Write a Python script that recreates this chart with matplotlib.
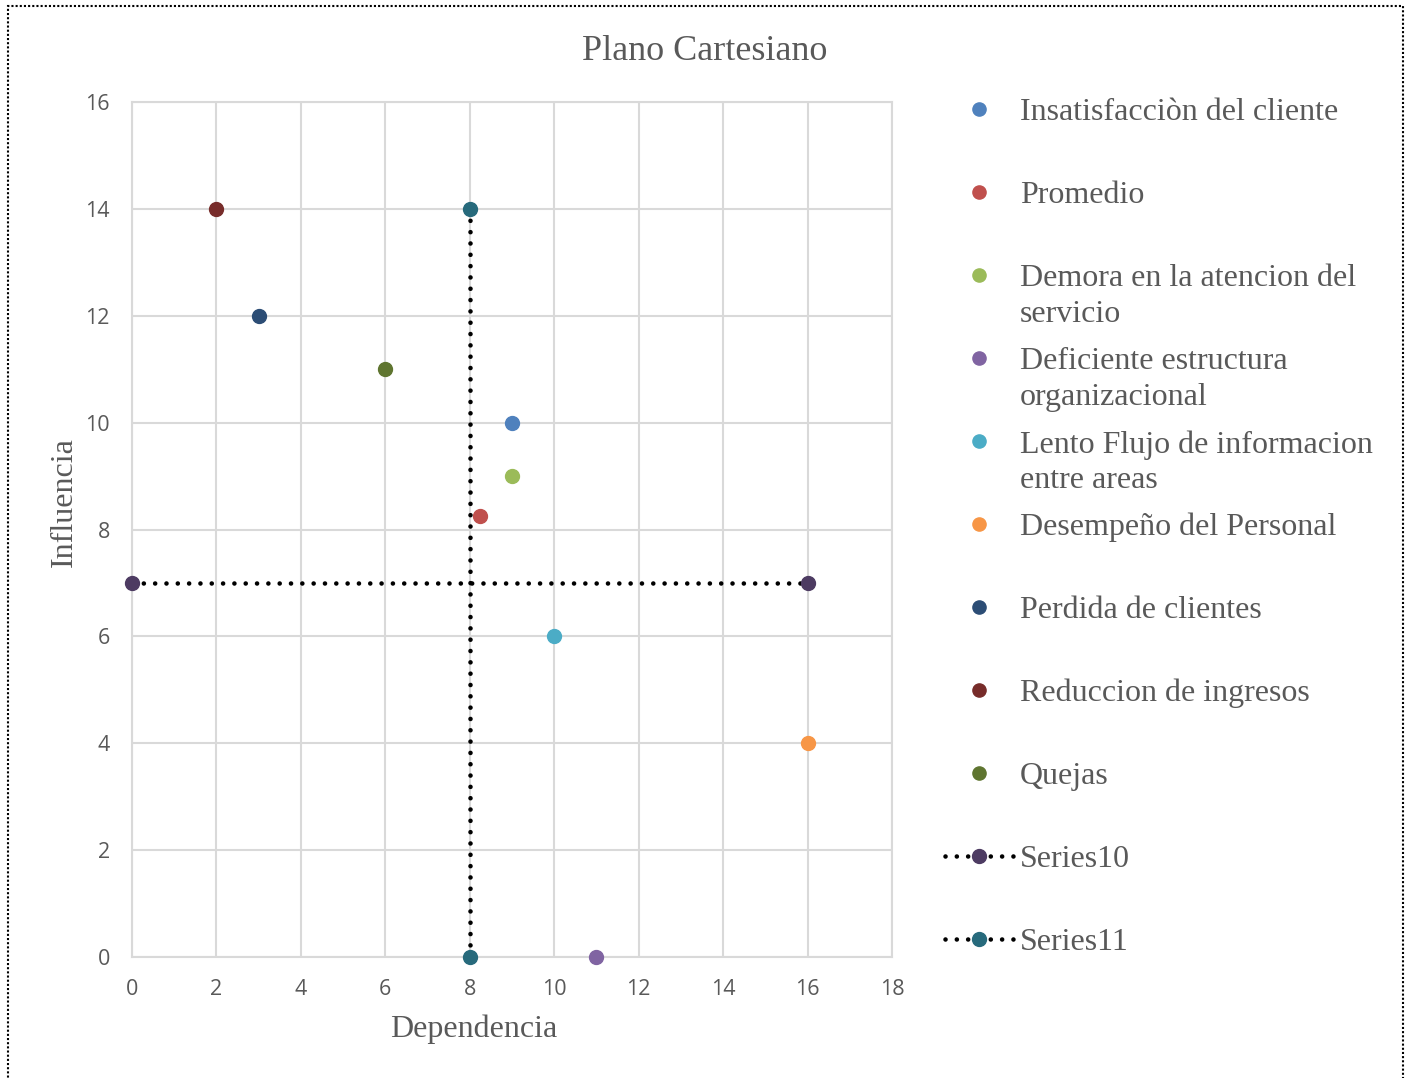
import matplotlib
matplotlib.use("Agg")
import matplotlib.pyplot as plt
from matplotlib.lines import Line2D
from matplotlib.patches import Rectangle

# scatter points (dependencia, influencia)
labels = ["Insatisfacciòn del cliente", "Promedio", "Demora en la atencion del\nservicio",
          "Deficiente estructura\norganizacional", "Lento Flujo de informacion\nentre areas",
          "Desempeño del Personal", "Perdida de clientes", "Reduccion de ingresos", "Quejas"]
dep = [9, 8.25, 9, 11, 10, 16, 3, 2, 6]
inf = [10, 8.25, 9, 0, 6, 4, 12, 14, 11]
colors = ["#4F81BD", "#C0504D", "#9BBB59", "#8064A2", "#4BACC6", "#F79646",
          "#2C4D75", "#772C2A", "#5F7530"]

# dividing lines
s10_x = [0, 16]
s10_y = [7, 7]
s11_x = [8, 8]
s11_y = [14, 0]
line_names = ["Series10", "Series11"]
line_colors = ["#4D3B62", "#276A7C"]

gray = "#595959"
serif = "Liberation Serif"
dots = (0, (0.01, 2.46))

fig = plt.figure(figsize=(14.08, 10.78), dpi=100)
ax = fig.add_axes([132/1408, 1-957/1078, 760/1408, 855/1078])

ax.plot(s10_x, s10_y, linestyle=dots, color="black", lw=3.3,
        dash_capstyle="round", zorder=3)
ax.plot(s10_x, s10_y, "o", ms=10, color=line_colors[0], zorder=4, clip_on=False)
ax.plot(s11_x, s11_y, linestyle=dots, color="black", lw=3.3,
        dash_capstyle="round", zorder=3)
ax.plot(s11_x, s11_y, "o", ms=10, color=line_colors[1], zorder=4, clip_on=False)
for x, y, c in zip(dep, inf, colors):
    ax.plot(x, y, "o", ms=10, color=c, zorder=4, clip_on=False)

ax.set_xlim(0, 18)
ax.set_ylim(0, 16)
ax.set_xticks(range(0, 19, 2))
ax.set_yticks(range(0, 17, 2))
ax.grid(True, color="#D9D9D9", lw=1.5)
ax.set_axisbelow(True)
for s in ax.spines.values():
    s.set_color("#D9D9D9")
    s.set_linewidth(1.5)
ax.tick_params(length=0, labelsize=15.5, labelcolor=gray)
ax.tick_params(axis="x", pad=16)
ax.tick_params(axis="y", pad=16)
for t in ax.get_xticklabels() + ax.get_yticklabels():
    t.set_fontfamily("Open Sans")

ax.set_xlabel("Dependencia", fontsize=23, color=gray, family=serif)
ax.set_ylabel("Influencia", fontsize=23, color=gray, family=serif)
ax.xaxis.set_label_coords(0.45, -0.067)
ax.yaxis.set_label_coords(-0.07, 0.532)
fig.text(705/1408, 1-51/1078, "Plano Cartesiano", fontsize=26, color=gray, family=serif,
         ha="center", va="center")

# legend drawn as a column of entries
all_labels = labels + line_names
all_colors = colors + line_colors
for i, (lab, c) in enumerate(zip(all_labels, all_colors)):
    ymid = 1 - (109 + i*83)/1078
    if i >= len(labels):
        fig.add_artist(Line2D([945/1408, 1013/1408], [ymid, ymid], transform=fig.transFigure,
                              linestyle=dots, color="black", lw=3.3, dash_capstyle="round"))
    fig.add_artist(Line2D([979/1408], [ymid], transform=fig.transFigure, marker="o",
                          ms=10 if i >= len(labels) else 9.5, color=c, linestyle="none"))
    fig.text(1020/1408, ymid + 11/1078, lab, fontsize=23, color=gray, family=serif, va="top",
             linespacing=1.3)

fig.add_artist(Rectangle((8/1408, -0.01), 1395/1408, 1 - 6/1078 + 0.01, transform=fig.transFigure,
                         fill=False, edgecolor="black", lw=1.5, linestyle=(0, (1, 1))))

fig.savefig("out.png", dpi=100)
